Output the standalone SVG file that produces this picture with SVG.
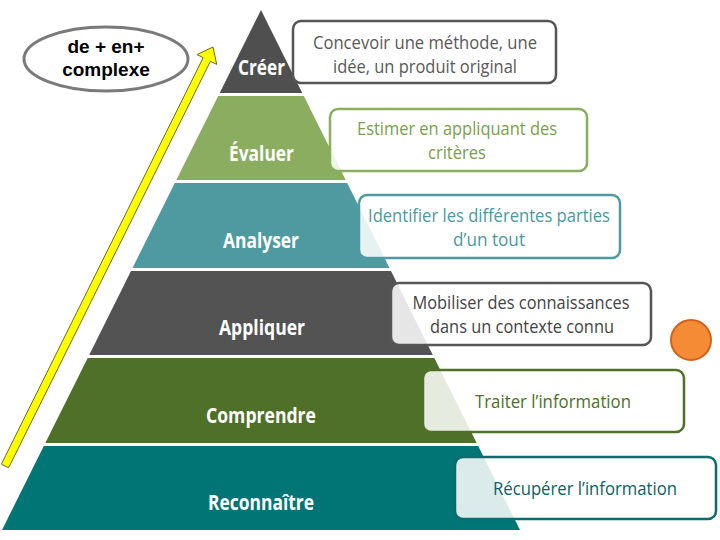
<svg xmlns="http://www.w3.org/2000/svg" width="720" height="540" viewBox="0 0 720 540">
<style>
.lvl{font-family:"Open Sans","DejaVu Sans",sans-serif;font-weight:bold;font-size:21px;fill:#ffffff;text-anchor:middle}
.box{fill:#ffffff;fill-opacity:0.86;stroke-width:2.5}
.bt{font-family:"Open Sans","DejaVu Sans",sans-serif;font-size:18px;text-anchor:middle}
.el{font-family:"Liberation Sans",Arial,sans-serif;font-weight:bold;font-size:19px;fill:#000;text-anchor:middle}
</style>
<rect width="720" height="540" fill="#ffffff"/>
<g id="pyramid">
<g id="creer">
<polygon points="261,10 219.7,93 302.3,93" fill="#4f4f4f"/>
<text class="lvl" x="261.5" y="75" textLength="47" lengthAdjust="spacingAndGlyphs">Créer</text>
</g>
<g id="evaluer">
<polygon points="218.2,96 303.8,96 345.7,180 176.3,180" fill="#8aad5f"/>
<text class="lvl" x="261.5" y="161" textLength="65" lengthAdjust="spacingAndGlyphs">Évaluer</text>
</g>
<g id="analyser">
<polygon points="174.8,183 347.2,183 389.5,268 132.5,268" fill="#4e9aa0"/>
<text class="lvl" x="261" y="248" textLength="76" lengthAdjust="spacingAndGlyphs">Analyser</text>
</g>
<g id="appliquer">
<polygon points="131,271 391,271 432.8,355 89.2,355" fill="#535353"/>
<text class="lvl" x="262" y="335" textLength="86" lengthAdjust="spacingAndGlyphs">Appliquer</text>
</g>
<g id="comprendre">
<polygon points="87.7,358 434.3,358 476.7,443 45.3,443" fill="#4f7028"/>
<text class="lvl" x="261" y="423" textLength="110" lengthAdjust="spacingAndGlyphs">Comprendre</text>
</g>
<g id="reconnaitre">
<polygon points="43.8,446 478.2,446 520,530 2,530" fill="#007575"/>
<text class="lvl" x="261" y="510" textLength="106" lengthAdjust="spacingAndGlyphs">Reconnaître</text>
</g>
</g>
<g id="box1">
<rect class="box" x="293" y="21" width="263" height="62" rx="8" stroke="#555555"/>
<text class="bt" fill="#595959" x="425" y="49" textLength="224" lengthAdjust="spacingAndGlyphs">Concevoir une méthode, une</text>
<text class="bt" fill="#595959" x="425" y="73" textLength="184" lengthAdjust="spacingAndGlyphs">idée, un produit original</text>
</g>
<g id="box2">
<rect class="box" x="330" y="109" width="257" height="62" rx="8" stroke="#8aad5f"/>
<text class="bt" fill="#79a050" x="457" y="135" textLength="200" lengthAdjust="spacingAndGlyphs">Estimer en appliquant des</text>
<text class="bt" fill="#79a050" x="457" y="159" textLength="58" lengthAdjust="spacingAndGlyphs">critères</text>
</g>
<g id="box3">
<rect class="box" x="359" y="195" width="261" height="63" rx="8" stroke="#4e9aa0"/>
<text class="bt" fill="#4a9aa0" x="489" y="222" textLength="242" lengthAdjust="spacingAndGlyphs">Identifier les différentes parties</text>
<text class="bt" fill="#4a9aa0" x="489" y="246" textLength="72" lengthAdjust="spacingAndGlyphs">d’un tout</text>
</g>
<g id="box4">
<rect class="box" x="391" y="283" width="260" height="62" rx="8" stroke="#555555"/>
<text class="bt" fill="#444444" x="521" y="309" textLength="217" lengthAdjust="spacingAndGlyphs">Mobiliser des connaissances</text>
<text class="bt" fill="#444444" x="522" y="333" textLength="184" lengthAdjust="spacingAndGlyphs">dans un contexte connu</text>
</g>
<g id="box5">
<rect class="box" x="423" y="370" width="261" height="62" rx="8" stroke="#4f7028"/>
<text class="bt" fill="#4f7028" x="553" y="408" textLength="156" lengthAdjust="spacingAndGlyphs">Traiter l’information</text>
</g>
<g id="box6">
<rect class="box" x="455" y="457" width="261" height="62" rx="8" stroke="#0d6b6b"/>
<text class="bt" fill="#105f60" x="585" y="495" textLength="184" lengthAdjust="spacingAndGlyphs">Récupérer l’information</text>
</g>
<g id="circle">
<circle cx="691" cy="340" r="20" fill="#f68b35" stroke="#d0601a" stroke-width="2"/>
</g>
<g id="complexite">
<ellipse cx="106" cy="59" rx="82" ry="32" fill="#ffffff" stroke="#7a7a7a" stroke-width="3"/>
<text class="el" x="106" y="53">de + en+</text>
<text class="el" x="106" y="76">complexe</text>
</g>
<g id="connectors">
<polygon points="1.4,464.2 203.2,57.7 196.9,54.6 213,47 216.7,64.4 210.4,61.3 8.6,467.8" fill="#ffff00" stroke="#6b6b1e" stroke-width="1"/>
</g>
</svg>
